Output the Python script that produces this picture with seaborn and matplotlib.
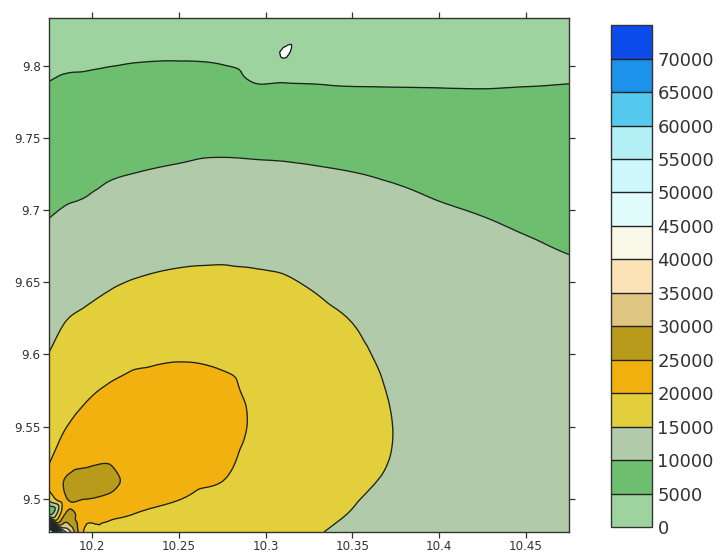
import numpy as np
import matplotlib
matplotlib.use("Agg")
import matplotlib.pyplot as plt
import matplotlib.tri as mtri
import seaborn as sns

sns.set_style("white")
plt.rcParams['font.family'] = ['DejaVu Sans']

# grid coordinates
x_coords = [10.175, 10.185, 10.195, 10.21, 10.225, 10.25, 10.275, 10.295,
            10.31, 10.325, 10.35, 10.375, 10.4, 10.425, 10.45, 10.475]
y_coords = [9.477, 9.49, 9.5, 9.512, 9.525, 9.55, 9.575, 9.6, 9.625, 9.65,
            9.675, 9.7, 9.725, 9.75, 9.775, 9.79, 9.806, 9.833]

# field values, one list per x column (bottom -> top)
col_10175 = [90000, 8000, 17000, 21500, 19900, 18300, 16800, 15100, 13700, 12300, 11000, 9700, 8400, 7000, 5700, 4950, 4000, 2700]
col_10185 = [40000, 25500, 24800, 25500, 23000, 19950, 18500, 16600, 14900, 13300, 11700, 10200, 8800, 7400, 6000, 5300, 4200, 2700]
col_10195 = [19800, 22000, 25100, 27000, 24200, 21200, 19300, 17200, 15500, 13800, 12100, 10500, 9000, 7600, 6200, 5400, 4300, 2700]
col_10210 = [19200, 20800, 24000, 26500, 24900, 23000, 20500, 18300, 16400, 14600, 13000, 11300, 9700, 8200, 6700, 5700, 4500, 2700]
col_10225 = [18300, 20000, 21500, 22700, 23300, 23000, 21500, 19000, 17300, 15200, 13500, 11800, 10050, 8500, 6900, 5900, 4700, 2700]
col_10250 = [17500, 18700, 20100, 21000, 21700, 22400, 21500, 19600, 17700, 15700, 14000, 12300, 10500, 8800, 7000, 5900, 4800, 2700]
col_10275 = [16800, 17500, 18600, 20000, 20900, 21800, 20800, 19300, 17800, 15800, 14200, 12600, 10900, 8900, 6900, 5800, 4600, 2600]
col_10295 = [16200, 16700, 17100, 17600, 18200, 19200, 19000, 18600, 17500, 15600, 14000, 12500, 10800, 8700, 6200, 4800, 3900, 2600]
col_10310 = [15700, 16000, 16300, 16600, 16900, 17400, 17500, 17200, 16400, 15300, 13900, 12400, 10700, 8600, 6300, 4750, -150, 4300]
col_10325 = [15200, 15500, 15750, 16000, 16300, 16700, 16800, 16500, 15800, 14800, 13500, 12100, 10500, 8400, 6000, 4800, 3600, 2700]
col_10350 = [14700, 14950, 15100, 15300, 15500, 15800, 15800, 15500, 14900, 13900, 12800, 11500, 10100, 8100, 5800, 4700, 3800, 2800]
col_10375 = [14300, 14500, 14650, 14800, 14900, 14950, 14800, 14400, 13800, 13000, 12000, 10900, 9600, 7800, 5700, 4700, 3900, 2900]
col_10400 = [14000, 14200, 14350, 14450, 14500, 14450, 14200, 13800, 13200, 12400, 11400, 10300, 9000, 7400, 5600, 4700, 4000, 3000]
col_10425 = [13600, 13800, 13900, 14000, 14000, 13900, 13700, 13300, 12800, 12000, 10900, 9800, 8500, 7100, 5500, 4700, 4100, 3100]
col_10450 = [13300, 13450, 13550, 13600, 13600, 13500, 13300, 12900, 12300, 11500, 10350, 9200, 8000, 6800, 5500, 4800, 4200, 3200]
col_10475 = [13000, 13100, 13200, 13200, 13200, 13100, 12900, 12500, 11900, 11000, 9700, 8600, 7500, 6500, 5500, 4900, 4300, 3300]

levels = [0, 5000, 10000, 15000, 20000, 25000, 30000, 35000, 40000, 45000,
          50000, 55000, 60000, 65000, 70000, 75000]
level_colors = ['#9ed3a0', '#6ebe70', '#b1caa9', '#e3cf3c', '#f3b10f',
                '#b99b1c', '#dfc682', '#fce3b7', '#f8f8e8', '#dffcfb',
                '#cdf7fb', '#b3f0f6', '#56c9ee', '#1b93ea', '#0b4cea']

x_ticks = [10.2, 10.25, 10.3, 10.35, 10.4, 10.45]
x_labels = ['10.2', '10.25', '10.3', '10.35', '10.4', '10.45']
y_ticks = [9.5, 9.55, 9.6, 9.65, 9.7, 9.75, 9.8]
y_labels = ['9.5', '9.55', '9.6', '9.65', '9.7', '9.75', '9.8']

cols = [col_10175, col_10185, col_10195, col_10210, col_10225, col_10250,
        col_10275, col_10295, col_10310, col_10325, col_10350, col_10375,
        col_10400, col_10425, col_10450, col_10475]
Z = np.array(cols, dtype=float).T
X, Y = np.meshgrid(np.array(x_coords), np.array(y_coords))

# smooth the contour geometry with matplotlib's own triangular refiner
triang = mtri.Triangulation(X.ravel(), Y.ravel())
interp = mtri.CubicTriInterpolator(triang, Z.ravel(), kind='geom')
refiner = mtri.UniformTriRefiner(triang)
tri_ref, z_ref = refiner.refine_field(Z.ravel(), triinterpolator=interp, subdiv=3)

fig = plt.figure(figsize=(7.23, 5.52), dpi=100)
ax = fig.add_axes([0.0678, 0.0362, 0.7192, 0.9312])
cf = ax.tricontourf(tri_ref, z_ref, levels=levels, colors=level_colors)
ax.tricontour(tri_ref, z_ref, levels=levels, colors='#1a241a', linewidths=0.95)

ax.set_xlim(10.175, 10.475)
ax.set_ylim(9.477, 9.833)
ax.set_xticks(x_ticks)
ax.set_xticklabels(x_labels)
ax.set_yticks(y_ticks)
ax.set_yticklabels(y_labels)
ax.tick_params(direction='out', length=4.5, width=0.9, colors='#333333',
               labelsize=8.6, pad=1.5, top=True, right=True, bottom=True, left=True,
               labeltop=False, labelright=False)
for s in ax.spines.values():
    s.set_color('#333333')
    s.set_linewidth(1.0)
    s.set_visible(True)

cax = fig.add_axes([0.845, 0.0453, 0.0567, 0.909])
cb = fig.colorbar(cf, cax=cax, drawedges=True)
cb.set_ticks(levels[:-1])
cb.set_ticklabels([str(v) for v in levels[:-1]])
cb.ax.tick_params(length=0, labelsize=13, pad=4, colors='#333333')
cb.dividers.set_color('#222222')
cb.dividers.set_linewidth(1.0)
cb.outline.set_edgecolor('#333333')
cb.outline.set_linewidth(1.0)

fig.savefig('out.png', dpi=100)
